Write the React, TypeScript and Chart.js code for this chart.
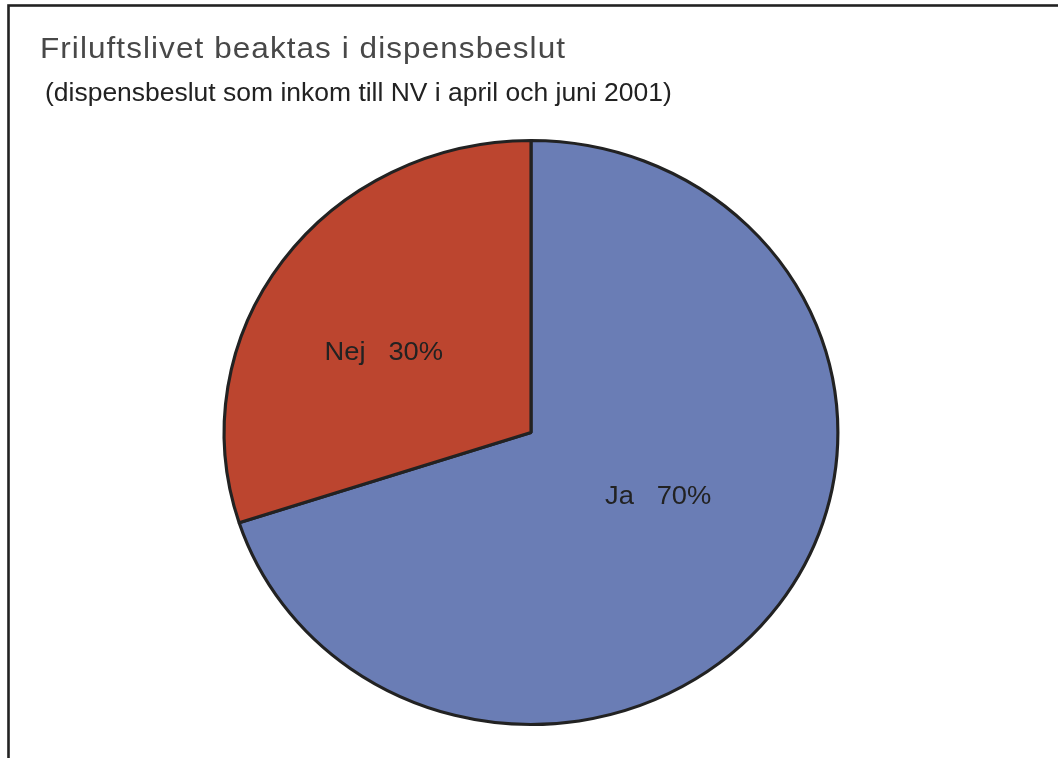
import React, { useEffect, useRef } from "react";
import { Chart, registerables } from "chart.js";

Chart.register(...registerables);

const categories = ["Ja", "Nej"];
const shares = [70, 30];
const sliceColors = ["#6a7db5", "#bc452f"];
const titleText = "Friluftslivet beaktas i dispensbeslut";
const subtitleText = "(dispensbeslut som inkom till NV i april och juni 2001)";

const STRETCH_X = 1.051;
const FONT = "'Liberation Sans', Arial, Helvetica, sans-serif";

const framePlugin = {
  id: "frame",
  beforeDraw(chart: any) {
    const ctx = chart.ctx;
    ctx.save();
    ctx.fillStyle = "#ffffff";
    ctx.fillRect(0, 0, chart.width, chart.height);
    ctx.strokeStyle = "#222222";
    ctx.lineWidth = 2.6;
    ctx.strokeRect(8.5, 5.5, 3000, 3000);
    ctx.restore();
  },
};

const textPlugin = {
  id: "texts",
  afterDraw(chart: any) {
    const ctx = chart.ctx;
    ctx.save();
    ctx.textBaseline = "alphabetic";
    ctx.textAlign = "left";
    // title
    ctx.fillStyle = "#484848";
    ctx.font = `30px ${FONT}`;
    (ctx as any).letterSpacing = "1px";
    ctx.save();
    ctx.translate(40, 58);
    ctx.scale(STRETCH_X, 1);
    ctx.fillText(titleText, 0, 0);
    ctx.restore();
    // subtitle
    (ctx as any).letterSpacing = "0px";
    ctx.fillStyle = "#222222";
    ctx.font = `25.2px ${FONT}`;
    ctx.save();
    ctx.translate(45, 101);
    ctx.scale(STRETCH_X, 1);
    ctx.fillText(subtitleText, 0, 0);
    ctx.restore();
    ctx.restore();
  },
};

const ellipsePlugin = {
  id: "ellipse",
  beforeDatasetsDraw(chart: any) {
    const { left, right, top, bottom } = chart.chartArea;
    const cx = (left + right) / 2;
    const cy = (top + bottom) / 2;
    const ctx = chart.ctx;
    ctx.save();
    ctx.translate(cx, cy);
    ctx.scale(STRETCH_X, 1);
    ctx.translate(-cx, -cy);
  },
  afterDatasetsDraw(chart: any) {
    chart.ctx.restore();
    // slice labels
    const ctx = chart.ctx;
    const meta = chart.getDatasetMeta(0);
    const angleShift = [-8.1, -6.3];
    const radiusFrac = [0.469, 0.552];
    ctx.save();
    ctx.fillStyle = "#222222";
    ctx.font = `26px ${FONT}`;
    ctx.textAlign = "center";
    ctx.textBaseline = "middle";
    meta.data.forEach((arc: any, i: number) => {
      const p = arc.getProps(["x", "y", "startAngle", "endAngle", "outerRadius"], true);
      const mid = (p.startAngle + p.endAngle) / 2 + (angleShift[i] * Math.PI) / 180;
      const r = p.outerRadius * radiusFrac[i];
      const x = p.x + Math.cos(mid) * r * STRETCH_X;
      const y = p.y + Math.sin(mid) * r;
      ctx.save();
      ctx.translate(x, y);
      ctx.scale(STRETCH_X, 1);
      ctx.fillText(`${categories[i]}   ${shares[i]}%`, 0, 0);
      ctx.restore();
    });
    ctx.restore();
  },
};

export default function App() {
  const ref = useRef<HTMLCanvasElement>(null);
  useEffect(() => {
    document.body.style.margin = "0";
    const chart = new Chart(ref.current!, {
      type: "pie",
      data: {
        labels: categories,
        datasets: [
          {
            data: shares,
            backgroundColor: sliceColors,
            borderColor: "#222222",
            borderWidth: 3,
            hoverOffset: 0,
          },
        ],
      },
      options: {
        animation: false,
        responsive: false,
        events: [],
        radius: 292,
        layout: { padding: { left: 4, right: 0, top: 120, bottom: 13 } },
        plugins: {
          legend: { display: false },
          tooltip: { enabled: false },
          title: { display: false },
        },
      } as any,
      plugins: [framePlugin, ellipsePlugin, textPlugin],
    });
    return () => chart.destroy();
  }, []);
  return (
    <div style={{ width: 1058, height: 758, overflow: "hidden" }}>
      <canvas ref={ref} width={1058} height={758} style={{ display: "block", width: 1058, height: 758 }} />
    </div>
  );
}
